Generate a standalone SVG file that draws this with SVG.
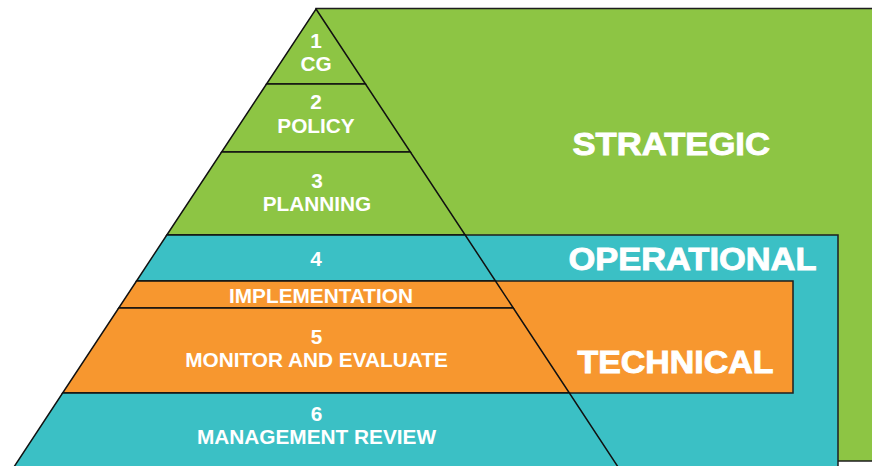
<svg xmlns="http://www.w3.org/2000/svg" width="872" height="466" viewBox="0 0 872 466">
<style>
.g{fill:#8DC544}
.t{fill:#3BC0C5}
.o{fill:#F7972F}
.box{stroke:#1e1e1e;stroke-width:1.5}
.band{stroke:#111;stroke-width:1.5;stroke-linejoin:miter}
.lbl{font-family:"Liberation Sans",Arial,sans-serif;font-weight:bold;font-size:20.8px;fill:#fff;text-anchor:middle}
.big{font-family:"Liberation Sans",Arial,sans-serif;font-weight:bold;font-size:32px;fill:#fff;stroke:#fff;stroke-width:0.9px}
</style>
<rect width="872" height="466" fill="#fff"/>
<g id="strategic">
<rect class="g box" x="316" y="8.5" width="570" height="452.5"/>
<text class="big" x="572.5" y="155" textLength="197.5" lengthAdjust="spacingAndGlyphs">STRATEGIC</text>
</g>
<g id="operational">
<rect class="t box" x="400" y="235" width="438" height="245"/>
<text class="big" x="568.5" y="270" textLength="248" lengthAdjust="spacingAndGlyphs">OPERATIONAL</text>
</g>
<g id="technical">
<rect class="o box" x="400" y="281" width="393" height="112"/>
<text class="big" x="577.5" y="373" textLength="196" lengthAdjust="spacingAndGlyphs">TECHNICAL</text>
</g>
<g id="level1-cg">
<polygon class="g band" points="316,9 365.5,84 266.5,84"/>
<text class="lbl" x="316" y="48">1</text>
<text class="lbl" x="316" y="71">CG</text>
</g>
<g id="level2-policy">
<polygon class="g band" points="266.5,84 365.5,84 410.4,152 221.6,152"/>
<text class="lbl" x="316" y="109">2</text>
<text class="lbl" x="316" y="133">POLICY</text>
</g>
<g id="level3-planning">
<polygon class="g band" points="221.6,152 410.4,152 465.2,235 166.8,235"/>
<text class="lbl" x="317" y="188">3</text>
<text class="lbl" x="317" y="211">PLANNING</text>
</g>
<g id="level4">
<polygon class="t band" points="166.8,235 465.2,235 495.5,281 136.5,281"/>
<text class="lbl" x="316" y="266">4</text>
</g>
<g id="implementation">
<polygon class="o band" points="136.5,281 495.5,281 513.3,308 118.7,308"/>
<text class="lbl" x="321" y="303">IMPLEMENTATION</text>
</g>
<g id="level5-monitor">
<polygon class="o band" points="118.7,308 513.3,308 569.4,393 62.6,393"/>
<text class="lbl" x="316.5" y="344">5</text>
<text class="lbl" x="316.5" y="367">MONITOR AND EVALUATE</text>
</g>
<g id="level6-review">
<polygon class="t band" points="62.6,393 569.4,393 622,473 10,473"/>
<text class="lbl" x="316.5" y="421">6</text>
<text class="lbl" x="316.5" y="444">MANAGEMENT REVIEW</text>
</g>
<g id="connectors"></g>
</svg>
